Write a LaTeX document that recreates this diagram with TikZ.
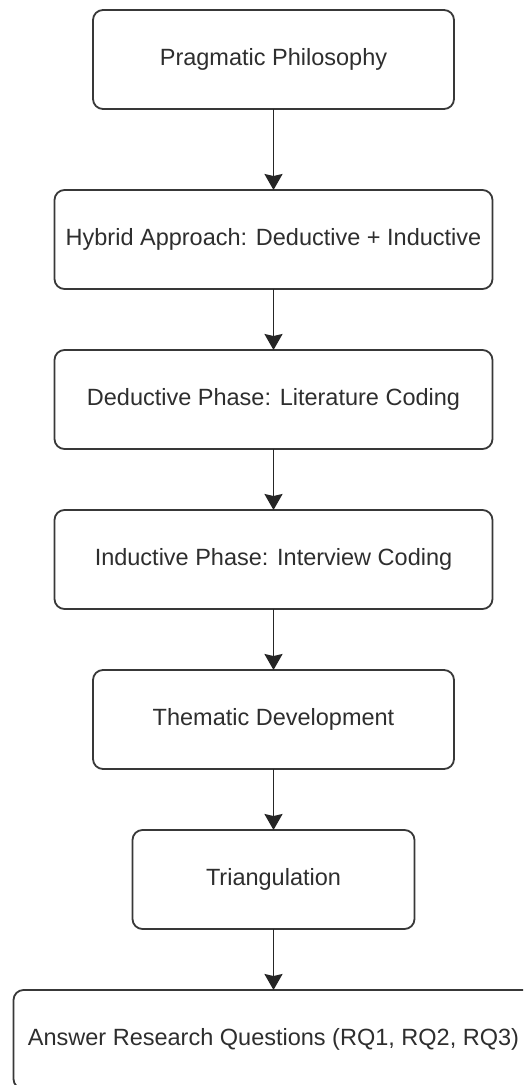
\documentclass[tikz,border=0pt]{standalone}
\usepackage{fontspec}
\setmainfont{Liberation Sans}
\usetikzlibrary{positioning}
\usetikzlibrary{arrows.meta}

\begin{document}
\begin{tikzpicture}[x=1pt,y=1pt,align=center,node distance=61pt,
every node/.style={font=\fontsize{23.5}{28}\selectfont,text=black!82},
blocco/.style={draw=black!78,line width=1.8pt,rounded corners=10pt,minimum height=99pt,inner sep=0pt,outer sep=0pt,fill=white},
stretto/.style={blocco,minimum width=361pt},
largo/.style={blocco,minimum width=438pt},
freccia/.style={draw=black!85,line width=1.8pt,-{Stealth[length=16pt,width=18pt,inset=2pt]}}
]
\useasboundingbox (0,0) rectangle (523,-1085);
\clip (0,0) rectangle (523,-1085);
\node[stretto](a) at (273.5,-59.5){Pragmatic Philosophy};
%--
\node[largo,below = 81pt of a](b){Hybrid Approach: Deductive + Inductive};
\draw [freccia] (a) -- (b);
%--
\node[largo,below = of b](c){Deductive Phase: Literature Coding};
\draw [freccia] (b) -- (c);
%--
\node[largo,below = of c](d){Inductive Phase: Interview Coding};
\draw [freccia] (c) -- (d);
%--
\node[stretto,below = of d](e){Thematic Development};
\draw [freccia] (d) -- (e);
%--
\node[blocco,minimum width=282pt,below = of e](f){Triangulation};
\draw [freccia] (e) -- (f);
%--
\node[blocco,minimum width=520pt,below = of f](g){Answer Research Questions (RQ1, RQ2, RQ3)};
\draw [freccia] (f) -- (g);
\end{tikzpicture}
\end{document}
